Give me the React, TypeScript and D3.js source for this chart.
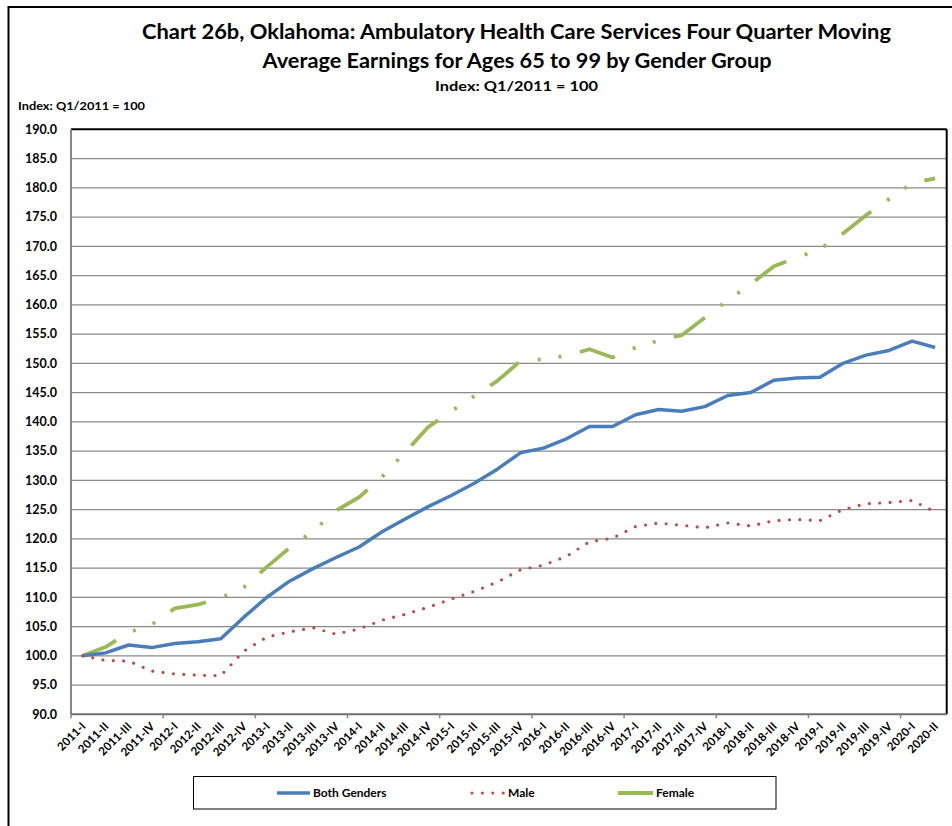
import React from "react";
import * as d3 from "d3";

const categories = [
  "2011-I", "2011-II", "2011-III", "2011-IV",
  "2012-I", "2012-II", "2012-III", "2012-IV",
  "2013-I", "2013-II", "2013-III", "2013-IV",
  "2014-I", "2014-II", "2014-III", "2014-IV",
  "2015-I", "2015-II", "2015-III", "2015-IV",
  "2016-I", "2016-II", "2016-III", "2016-IV",
  "2017-I", "2017-II", "2017-III", "2017-IV",
  "2018-I", "2018-II", "2018-III", "2018-IV",
  "2019-I", "2019-II", "2019-III", "2019-IV",
  "2020-I", "2020-II",
];

const bothGenders = [
  100.0, 100.5, 101.85, 101.4, 102.1, 102.4, 102.9, 106.6, 110.0, 112.8,
  114.9, 116.8, 118.6, 121.2, 123.4, 125.5, 127.4, 129.5, 131.9, 134.7,
  135.5, 137.1, 139.2, 139.2, 141.2, 142.1, 141.8, 142.6, 144.5, 145.0,
  147.1, 147.5, 147.6, 150.0, 151.4, 152.2, 153.8, 152.7,
];

const male = [
  100.0, 99.2, 99.1, 97.4, 96.9, 96.7, 96.6, 100.8, 103.2, 104.1,
  104.8, 103.7, 104.6, 106.1, 107.1, 108.3, 109.7, 111.0, 112.6, 114.7,
  115.5, 117.0, 119.5, 120.1, 122.1, 122.7, 122.3, 121.9, 122.7, 122.2,
  123.1, 123.3, 123.1, 125.0, 126.0, 126.2, 126.55, 124.6,
];

const female = [
  100.0, 101.5, 104.0, 105.3, 108.1, 108.75, 109.9, 111.7, 115.2, 118.5,
  121.3, 124.8, 127.1, 130.6, 134.8, 139.1, 141.8, 144.4, 147.0, 150.4,
  150.7, 151.3, 152.4, 151.0, 152.7, 153.9, 154.8, 157.8, 160.8, 163.5,
  166.6, 168.1, 169.5, 172.2, 175.3, 178.1, 180.8, 181.6,
];

const yTickValues = [90, 95, 100, 105, 110, 115, 120, 125, 130, 135, 140, 145, 150, 155, 160, 165, 170, 175, 180, 185, 190];

const titleLines = [
  "Chart 26b, Oklahoma: Ambulatory Health Care Services Four Quarter Moving",
  "Average Earnings for Ages 65 to 99 by Gender Group",
];
const subtitle = "Index: Q1/2011 = 100";
const yAxisNote = "Index: Q1/2011 = 100";
const seriesNames = ["Both Genders", "Male", "Female"];

const BLUE = "#4a7ebb";
const RED = "#be4b48";
const GREEN = "#98b954";
const FONT = "Lato, 'Open Sans', 'DejaVu Sans', sans-serif";

const GREEN_DASH = "37 19.5 3 18 3 18.9";
const RED_DOTS = "0 10.4";

export default function App() {
  const W = 952;
  const H = 826;
  const left = 71;
  const right = 946.7;
  const top = 129.3;
  const bottom = 714.3;

  const x = d3.scaleBand<string>().domain(categories).range([left, right]).paddingInner(0).paddingOuter(0);
  const y = d3.scaleLinear().domain([90, 190]).range([bottom, top]);
  const cx = (i: number) => (x(categories[i]) as number) + x.bandwidth() / 2;

  const line = d3
    .line<number>()
    .x((_, i) => cx(i))
    .y((d) => y(d));

  const tickIdx = categories.map((_, i) => i).filter((i) => i % 4 === 0);

  const legendY = 793;

  return (
    <svg
      width={W}
      height={H}
      style={{ position: "absolute", left: 0, top: 0, background: "#fff" }}
      fontFamily={FONT}
    >
      <rect x={0} y={0} width={W} height={H} fill="#fff" />
      {/* outer chart frame */}
      <rect x={8.5} y={7} width={W + 20} height={H + 20} fill="none" stroke="#000" strokeWidth={2} />

      {/* titles */}
      <text x={516.5} y={39} textAnchor="middle" fontSize={20} fontWeight="bold" textLength={749} lengthAdjust="spacingAndGlyphs">
        {titleLines[0]}
      </text>
      <text x={517} y={68} textAnchor="middle" fontSize={20} fontWeight="bold" textLength={509} lengthAdjust="spacingAndGlyphs">
        {titleLines[1]}
      </text>
      <text x={516.5} y={91} textAnchor="middle" fontSize={14} fontWeight="bold" textLength={163} lengthAdjust="spacingAndGlyphs">
        {subtitle}
      </text>

      {/* y-axis note */}
      <text x={18} y={110} fontSize={11} fontWeight="bold" textLength={127} lengthAdjust="spacingAndGlyphs">
        {yAxisNote}
      </text>

      {/* gridlines */}
      {yTickValues
        .filter((v) => v !== 90 && v !== 190)
        .map((v) => (
          <line key={"g" + v} x1={left} x2={right} y1={y(v)} y2={y(v)} stroke="#8a8a8a" strokeWidth={1.3} />
        ))}

      {/* plot border top/right */}
      <line x1={left} x2={right} y1={top} y2={top} stroke="#000" strokeWidth={2} />
      <line x1={right} x2={right} y1={top} y2={bottom} stroke="#000" strokeWidth={2} />

      {/* axes */}
      <line x1={left} x2={left} y1={top} y2={bottom} stroke="#868686" strokeWidth={2} />
      <line x1={left} x2={right} y1={bottom} y2={bottom} stroke="#6e6e6e" strokeWidth={2} />
      {tickIdx.map((i) => (
        <line
          key={"t" + i}
          x1={x(categories[i]) as number}
          x2={x(categories[i]) as number}
          y1={bottom}
          y2={bottom + 4}
          stroke="#868686"
          strokeWidth={1.5}
        />
      ))}

      {/* y tick labels */}
      {yTickValues.map((v) => (
        <text key={"yl" + v} x={57} y={y(v)} dy="0.35em" textAnchor="end" fontSize={12.5} fontWeight="bold">
          {v.toFixed(1)}
        </text>
      ))}

      {/* x tick labels */}
      {categories.map((c, i) => (
        <text
          key={"xl" + c}
          transform={`translate(${cx(i) + 1},${bottom + 10}) rotate(-45)`}
          textAnchor="end"
          dy="0.35em"
          fontSize={11.5}
          fontWeight="bold"
        >
          {c}
        </text>
      ))}

      {/* series */}
      <path d={line(female) || ""} fill="none" stroke={GREEN} strokeWidth={3.8} strokeDasharray={GREEN_DASH} strokeLinejoin="round" />
      <path d={line(bothGenders) || ""} fill="none" stroke={BLUE} strokeWidth={3.5} strokeLinejoin="round" />
      <path d={line(male) || ""} fill="none" stroke={RED} strokeWidth={3.2} strokeDasharray={RED_DOTS} strokeLinecap="round" strokeLinejoin="round" />

      {/* legend */}
      <rect x={193.5} y={776.5} width={582.5} height={32.5} fill="#fff" stroke="#000" strokeWidth={1} />
      <line x1={277} x2={310} y1={legendY} y2={legendY} stroke={BLUE} strokeWidth={3.5} />
      <text x={313} y={legendY} dy="0.35em" fontSize={12} fontWeight="bold">
        {seriesNames[0]}
      </text>
      <line x1={472} x2={504} y1={legendY} y2={legendY} stroke={RED} strokeWidth={3.2} strokeDasharray={RED_DOTS} strokeLinecap="round" />
      <text x={508} y={legendY} dy="0.35em" fontSize={12} fontWeight="bold">
        {seriesNames[1]}
      </text>
      <line x1={618} x2={653} y1={legendY} y2={legendY} stroke={GREEN} strokeWidth={3.8} />
      <text x={656} y={legendY} dy="0.35em" fontSize={12} fontWeight="bold">
        {seriesNames[2]}
      </text>
    </svg>
  );
}
